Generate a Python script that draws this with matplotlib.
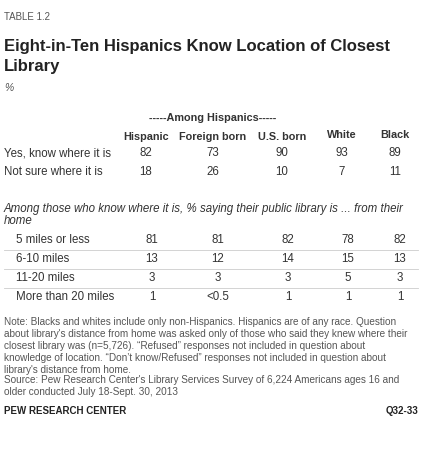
import matplotlib
matplotlib.use("Agg")
import matplotlib.pyplot as plt
from matplotlib.lines import Line2D

columns = ["Hispanic", "Foreign born", "U.S. born", "White", "Black"]
top_rows = ["Yes, know where it is", "Not sure where it is"]
top_vals = [["82", "73", "90", "93", "89"], ["18", "26", "10", "7", "11"]]
dist_rows = ["5 miles or less", "6-10 miles", "11-20 miles", "More than 20 miles"]
dist_vals = [["81", "81", "82", "78", "82"], ["13", "12", "14", "15", "13"],
             ["3", "3", "3", "5", "3"], ["1", "<0.5", "1", "1", "1"]]

W, H = 425, 455
fig = plt.figure(figsize=(W/100, H/100), dpi=100)
fig.patch.set_facecolor("white")
FONT = ["Liberation Sans", "DejaVu Sans"]
NARROW = ["Liberation Sans Narrow", "Liberation Sans", "DejaVu Sans"]
DARK = "#333333"

def t(x, y, s, size=8, ha="left", weight="normal", style="normal", color=DARK, family=FONT):
    fig.text(x/W, 1-y/H, s, fontsize=size, ha=ha, va="center", weight=weight,
             style=style, color=color, family=family)

def hline(x0, x1, y, color="#cccccc", lw=0.6):
    fig.add_artist(Line2D([x0/W, x1/W], [1-y/H, 1-y/H], color=color, lw=lw))

t(4, 17, "TABLE 1.2", size=7, color="#555555")
t(4, 46, "Eight-in-Ten Hispanics Know Location of Closest", size=12, weight="bold", color="#222222", family=NARROW)
t(4, 66, "Library", size=12, weight="bold", color="#222222", family=NARROW)
t(4, 88, "%", size=7.5, style="italic", color="#555555")

t(213, 118, "-----Among Hispanics-----", size=7.8, weight="bold", ha="center")
top_x = [146, 213, 282, 342, 395]
hdr_y = [137, 137, 137, 135, 135]
for x, y, c in zip(top_x, hdr_y, columns):
    t(x, y, c, size=7.8, weight="bold", ha="center")
for i, (r, vals) in enumerate(zip(top_rows, top_vals)):
    y = 153 + i*19
    t(4, y, r, size=8.3)
    for x, v in zip(top_x, vals):
        t(x, y, v, size=8.3, ha="center")

t(4, 209, "Among those who know where it is, % saying their public library is ... from their", size=8.3, style="italic")
t(4, 221, "home", size=8.3, style="italic")
low_x = [152, 218, 288, 348, 400]
for i, (r, vals) in enumerate(zip(dist_rows, dist_vals)):
    y = 240 + i*19
    t(16, y, r, size=8.3)
    for x, v in zip(low_x, vals):
        t(x, y, v, size=8.3, ha="center")
    if i < 3:
        hline(4, 418, y + 9.5)

notes = ["Note: Blacks and whites include only non-Hispanics. Hispanics are of any race. Question",
         "about library's distance from home was asked only of those who said they knew where their",
         "closest library was (n=5,726). \u201cRefused\u201d responses not included in question about",
         "knowledge of location. \u201cDon\u2019t know/Refused\u201d responses not included in question about",
         "library's distance from home."]
for i, s in enumerate(notes):
    t(4, 322 + i*12, s, size=7.2, color="#555555")
t(4, 380, "Source: Pew Research Center's Library Services Survey of 6,224 Americans ages 16 and", size=7.2, color="#555555")
t(4, 392, "older conducted July 18-Sept. 30, 2013", size=7.2, color="#555555")
t(4, 411, "PEW RESEARCH CENTER", size=7, weight="bold", color="#222222")
t(418, 411, "Q32-33", size=7, weight="bold", ha="right", color="#222222")

fig.savefig("out.png", dpi=100)
